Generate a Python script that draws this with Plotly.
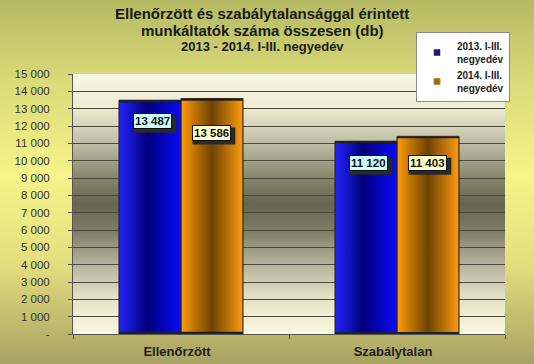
import base64
import plotly.graph_objects as go

# ---------------- data ----------------
categories = ["Ellenőrzött", "Szabálytalan"]
series_names = ["2013. I-III.<br>negyedév", "2014. I-III.<br>negyedév"]
values_2013 = [13487, 11120]
values_2014 = [13586, 11403]
label_2013 = ["13 487", "11 120"]
label_2014 = ["13 586", "11 403"]
y_tickvals = [0, 1000, 2000, 3000, 4000, 5000, 6000, 7000, 8000, 9000, 10000,
              11000, 12000, 13000, 14000, 15000]
y_ticktext = ["-", "1 000", "2 000", "3 000", "4 000", "5 000", "6 000", "7 000",
              "8 000", "9 000", "10 000", "11 000", "12 000", "13 000", "14 000", "15 000"]
title_lines = ["Ellenőrzött és szabálytalansággal érintett",
               "munkáltatók száma összesen (db)",
               "2013 - 2014. I-III. negyedév"]

# ---------------- style ----------------
W, H = 534, 364
ML, MR, MT, MB = 73, 29, 74, 30
PW, PH = W - ML - MR, H - MT - MB
BARGAP = 0.426
BW = (1 - BARGAP) / 2
FONT = "Liberation Sans, Arial, sans-serif"
LABEL_FS = 11.5


def grad_uri(stops, horizontal=False, stroke=None):
    x2, y2 = ("1", "0") if horizontal else ("0", "1")
    st = "".join(f'<stop offset="{o}" stop-color="{c}"/>' for o, c in stops)
    extra = ""
    if stroke:
        extra = f' stroke="{stroke}" stroke-width="2" vector-effect="non-scaling-stroke"'
    svg = ('<svg xmlns="http://www.w3.org/2000/svg" width="100" height="100" '
           'viewBox="0 0 100 100" preserveAspectRatio="none"><defs>'
           f'<linearGradient id="g" x1="0" y1="0" x2="{x2}" y2="{y2}">{st}</linearGradient>'
           f'</defs><rect x="0" y="0" width="100" height="100" fill="url(#g)"{extra}/></svg>')
    return "data:image/svg+xml;base64," + base64.b64encode(svg.encode()).decode()


paper_grad = grad_uri([(0, "#b4b962"), (0.22, "#d9da78"), (0.48, "#f6f38a"),
                       (0.72, "#e4df7e"), (1, "#a8a264")])
plot_grad = grad_uri([(0, "#f8f7e2"), (0.13, "#edebd0"), (0.27, "#bdbca4"),
                      (0.4, "#85846c"), (0.5, "#66654f"), (0.6, "#7c7b64"),
                      (0.73, "#b4b39a"), (0.87, "#e6e4c8"), (1, "#f9f8e0")])
blue_grad = grad_uri([(0, "#2424ff"), (0.45, "#00007a"), (1, "#0a0aff")],
                     horizontal=True, stroke="#202020")
orange_grad = grad_uri([(0, "#ff9c0a"), (0.5, "#6e4200"), (1, "#ff9c12")],
                       horizontal=True, stroke="#202020")

fig = go.Figure()
fig.add_trace(go.Bar(x=categories, y=values_2013, name=series_names[0],
                     marker=dict(color="#0000c0", line=dict(color="#202020", width=1)),
                     showlegend=False))
fig.add_trace(go.Bar(x=categories, y=values_2014, name=series_names[1],
                     marker=dict(color="#e08a00", line=dict(color="#202020", width=1)),
                     showlegend=False))
# legend entries
fig.add_trace(go.Scatter(x=[None], y=[None], mode="markers", name=series_names[0],
                         marker=dict(symbol="square", size=6, color="#1c1c6a",
                                     line=dict(color="#1c1c6a", width=0.5))))
fig.add_trace(go.Scatter(x=[None], y=[None], mode="markers", name=series_names[1],
                         marker=dict(symbol="square", size=6, color="#8a6a2c",
                                     line=dict(color="#d08a20", width=1))))

images = [
    dict(source=paper_grad, xref="paper", yref="paper", x=-ML / PW, y=1 + MT / PH,
         sizex=W / PW, sizey=H / PH, xanchor="left", yanchor="top",
         sizing="stretch", layer="below"),
    dict(source=plot_grad, xref="paper", yref="paper", x=0, y=1, sizex=1, sizey=1,
         xanchor="left", yanchor="top", sizing="stretch", layer="below"),
]
for i, v in enumerate(values_2013):
    images.append(dict(source=blue_grad, xref="x", yref="y", x=i - BW, y=v,
                       sizex=BW, sizey=v, xanchor="left", yanchor="top",
                       sizing="stretch", layer="above"))
for i, v in enumerate(values_2014):
    images.append(dict(source=orange_grad, xref="x", yref="y", x=i, y=v,
                       sizex=BW, sizey=v, xanchor="left", yanchor="top",
                       sizing="stretch", layer="above"))

annotations = []
shapes = []
shift_2013 = [-21, -22]
shift_2014 = [-34.5, -27]


def add_label(x, y, text, bg, ysh, xsh=0):
    half_w = len(text) * LABEL_FS * 0.28 + 2
    half_h = 8.5
    shapes.append(dict(type="rect", xref="x", yref="y", xsizemode="pixel",
                       ysizemode="pixel", xanchor=x, yanchor=y,
                       x0=xsh - half_w + 3, x1=xsh + half_w + 3,
                       y0=ysh - half_h - 3, y1=ysh + half_h - 3,
                       fillcolor="#2a2a2a", line=dict(width=0), layer="above"))
    annotations.append(dict(x=x, y=y, xref="x", yref="y", showarrow=False, text=text,
                            borderpad=1, borderwidth=1, xshift=xsh, yshift=ysh,
                            bgcolor=bg, bordercolor="#111",
                            font=dict(family=FONT, size=LABEL_FS, weight="bold",
                                      color="#111")))


for i, v in enumerate(values_2013):
    add_label(i - BW / 2, v, label_2013[i], "#ccffff", shift_2013[i], 2)
for i, v in enumerate(values_2014):
    add_label(i + BW / 2, v, label_2014[i], "#ffffcc", shift_2014[i], -1)

title_y = [13.5, 30.5, 46.5]
title_size = [15, 15, 13]
for t, yy, sz in zip(title_lines, title_y, title_size):
    annotations.append(dict(text=t, xref="paper", yref="paper", x=(262 - ML) / PW,
                            y=1 + (MT - yy) / PH, xanchor="center", yanchor="middle",
                            showarrow=False,
                            font=dict(family=FONT, size=sz, weight="bold", color="#1a1a1a")))

fig.update_layout(
    width=W, height=H,
    margin=dict(l=ML, r=MR, t=MT, b=MB, pad=0, autoexpand=False),
    paper_bgcolor="#e6e37e", plot_bgcolor="rgba(0,0,0,0)",
    barmode="group", bargap=BARGAP, bargroupgap=0,
    images=images, annotations=annotations, shapes=shapes,
    font=dict(family=FONT, color="#222"),
    legend=dict(x=(416 - ML) / PW, y=1 + (MT - 32) / PH, xanchor="left", yanchor="top",
                bgcolor="white", bordercolor="#8a8a8a", borderwidth=1,
                font=dict(family=FONT, size=10, weight="bold", color="#222"),
                tracegroupgap=0),
    xaxis=dict(type="category", range=[-0.5, 1.5], tickson="boundaries", ticks="outside",
               ticklen=4, tickcolor="#555", showline=True, linecolor="#555",
               showgrid=False, tickfont=dict(family=FONT, size=13, weight="bold", color="#222"),
               ticklabelstandoff=5, ticklabelshift=-4, automargin=False),
    yaxis=dict(range=[0, 15000], tickvals=y_tickvals, ticktext=y_ticktext,
               ticks="outside", ticklen=4, tickcolor="#555", showline=True,
               linecolor="#555", gridcolor="#4a4a3a", gridwidth=1, zeroline=False,
               tickfont=dict(family=FONT, size=11.5, color="#333"),
               ticklabelstandoff=16, automargin=False),
)

fig.write_html("out.html", config={"displayModeBar": False},
               post_script="document.body.style.margin='0';document.body.style.overflow='hidden';")
